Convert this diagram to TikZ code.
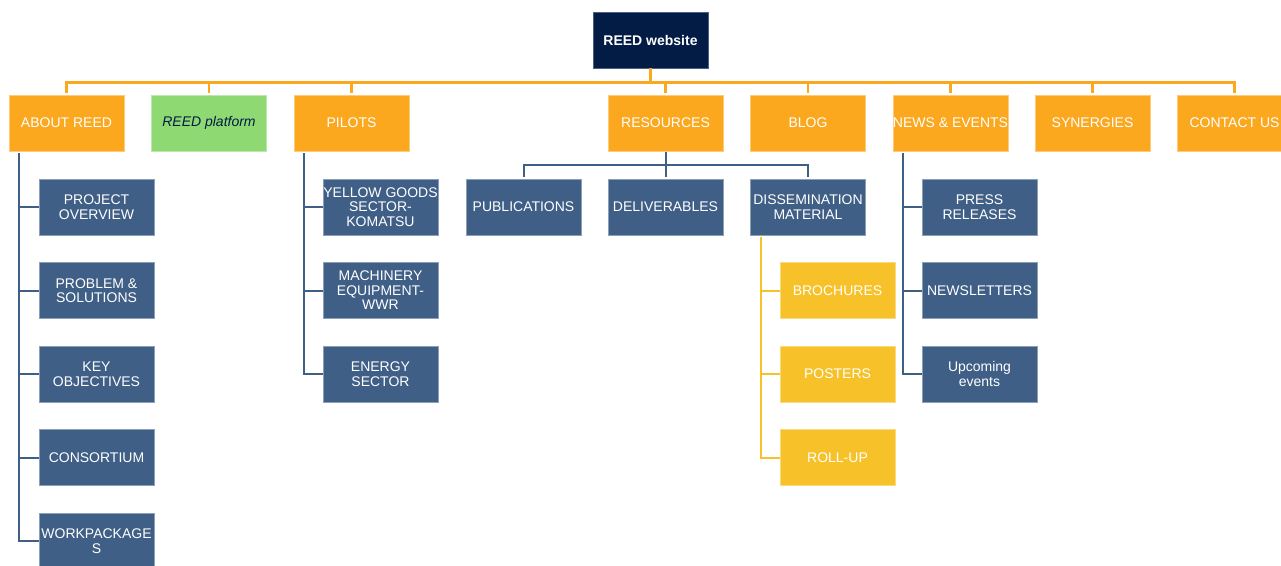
\documentclass[tikz,border=0pt]{standalone}
\usepackage{fontspec}
\setmainfont{Liberation Sans}
\begin{document}
\begin{tikzpicture}[x=1pt,y=-1pt]

% definiciones
\definecolor{naranja}{HTML}{FBA81F}
\definecolor{verde}{HTML}{8FD973}
\definecolor{marino}{HTML}{021C45}
\definecolor{azul}{HTML}{3F5F86}
\definecolor{amarillo}{HTML}{F7C129}

% estilos de caja y linea
\tikzstyle{caja}       = [minimum width=115pt,minimum height=56pt,inner sep=0pt,align=center,
                          text=white,font=\fontsize{14}{14.5}\selectfont,line width=0.8pt]
\tikzstyle{raiz}       = [caja,fill=marino,draw=marino!70!white,font=\bfseries\fontsize{14}{14.5}\selectfont]
\tikzstyle{seccion}    = [caja,fill=naranja,draw=naranja!60!white]
\tikzstyle{plataforma} = [caja,fill=verde,draw=verde!60!white,text=marino,font=\itshape\fontsize{14}{14.5}\selectfont]
\tikzstyle{pagina}     = [caja,fill=azul,draw=azul!60!white]
\tikzstyle{material}   = [caja,fill=amarillo,draw=amarillo!60!white]
\tikzstyle{linnar}     = [draw=naranja,line width=2.5pt]
\tikzstyle{linazu}     = [draw=azul,line width=2pt]
\tikzstyle{linama}     = [draw=amarillo,line width=2pt]

% rama lateral de un padre a un hijo
% #1: estilo de linea
% #2: nodo padre
% #3: nodo hijo
% #4: separacion desde la esquina del padre
\newcommand{\rama}[4]{
	\draw [#1] ([xshift=#4,yshift=-2pt]#2.south west) |- (#3.west);
}

% marco
\useasboundingbox (0,0) rectangle (1281,565);

% raiz y secciones
\node[raiz]       (web)   at (650.5,40)  {REED website};
\node[seccion]    (about) at (66.5,123)  {ABOUT REED};
\node[plataforma] (plat)  at (209,123)   {REED platform};
\node[seccion]    (pilot) at (351.5,123) {PILOTS};
\node[seccion]    (resou) at (665.5,123) {RESOURCES};
\node[seccion]    (blog)  at (808,123)   {BLOG};
\node[seccion]    (news)  at (950.5,123) {NEWS \& EVENTS};
\node[seccion]    (syner) at (1092.5,123){SYNERGIES};
\node[seccion]    (cont)  at (1234.5,123){CONTACT US};

% paginas de about
\node[pagina] (proj) at (96.5,207)   {PROJECT\\OVERVIEW};
\node[pagina] (prob) at (96.5,290.5) {PROBLEM \&\\SOLUTIONS};
\node[pagina] (keyo) at (96.5,374)   {KEY\\OBJECTIVES};
\node[pagina] (cons) at (96.5,457.5) {CONSORTIUM};
\node[pagina] (work) at (96.5,541)   {WORKPACKAGE\\S};

% paginas de pilots
\node[pagina] (yell) at (380.5,207)   {YELLOW GOODS\\SECTOR-\\KOMATSU};
\node[pagina] (mach) at (380.5,290.5) {MACHINERY\\EQUIPMENT-\\WWR};
\node[pagina] (ener) at (380.5,374)   {ENERGY\\SECTOR};

% paginas de resources
\node[pagina] (publ) at (523.5,207) {PUBLICATIONS};
\node[pagina] (deli) at (665.5,207) {DELIVERABLES};
\node[pagina] (diss) at (808,207)   {DISSEMINATION\\MATERIAL};
\node[material] (broc) at (837.5,290.5) {BROCHURES};
\node[material] (post) at (837.5,374)   {POSTERS};
\node[material] (roll) at (837.5,457.5) {ROLL-UP};

% paginas de news
\node[pagina] (pres) at (979.5,207)   {PRESS\\RELEASES};
\node[pagina] (nwsl) at (979.5,290.5) {NEWSLETTERS};
\node[pagina] (upco) at (979.5,374)   {Upcoming\\events};

% conectores principales
\draw [linnar] (web.south) -- ++(0,14) coordinate (bus);
\foreach \s in {about,plat,pilot,resou,blog,news,syner,cont}
	\draw [linnar] ([yshift=2pt]\s.north) |- (bus);

% conectores de resources
\draw [linazu] ([yshift=-1pt]resou.south) -- ++(0,13) coordinate (busres);
\foreach \s in {publ,deli,diss}
	\draw [linazu] ([yshift=2pt]\s.north) |- (busres);

% ramas laterales
\foreach \h in {proj,prob,keyo,cons,work}
	{\rama{linazu}{about}{\h}{10pt}}
\foreach \h in {yell,mach,ener}
	{\rama{linazu}{pilot}{\h}{10pt}}
\foreach \h in {pres,nwsl,upco}
	{\rama{linazu}{news}{\h}{10pt}}
\foreach \h in {broc,post,roll}
	{\rama{linama}{diss}{\h}{11pt}}

\end{tikzpicture}
\end{document}
